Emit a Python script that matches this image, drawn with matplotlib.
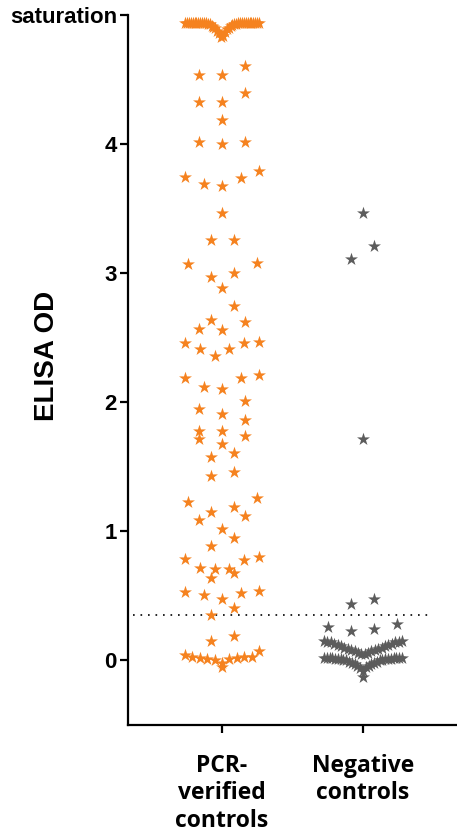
import numpy as np
import matplotlib
matplotlib.use('Agg')
import matplotlib.pyplot as plt

# ELISA OD values
pcr_values = [
    4.61, 4.54, 4.54, 4.40, 4.33, 4.33, 4.19, 4.02, 4.00, 4.02,
    3.79, 3.75, 3.74, 3.69, 3.68, 3.47, 3.26, 3.26, 3.08, 3.07,
    3.00, 2.97, 2.89, 2.75, 2.64, 2.62, 2.57, 2.56, 2.47, 2.46,
    2.46, 2.41, 2.41, 2.36, 2.21, 2.19, 2.19, 2.12, 2.10, 2.01,
    1.95, 1.91, 1.86, 1.78, 1.78, 1.74, 1.72, 1.68, 1.61, 1.58,
    1.46, 1.43, 1.26, 1.23, 1.19, 1.15, 1.12, 1.09, 1.02, 0.95,
    0.89, 0.80, 0.79, 0.78, 0.72, 0.71, 0.71, 0.68, 0.64, 0.54,
    0.53, 0.52, 0.51, 0.48, 0.41, 0.35, 0.19, 0.15, 0.07, 0.04,
    0.03, 0.03, 0.03, 0.02, 0.02, 0.01, 0.01, 0.0, -0.02, -0.05,
]
# samples above the reader's range, drawn at the saturation line
pcr_saturated = [4.83, 4.84, 4.86, 4.87, 4.88, 4.89, 4.90, 4.905, 4.91, 4.915,
                 4.92, 4.925, 4.93, 4.93, 4.935, 4.935] + [4.94] * 24

neg_values = [
    3.47, 3.21, 3.11, 1.72, 0.48, 0.44, 0.28, 0.26, 0.24, 0.23,
    0.15, 0.15, 0.145, 0.145, 0.14, 0.14, 0.13, 0.13, 0.12, 0.12,
    0.11, 0.11, 0.10, 0.10, 0.09, 0.09, 0.08, 0.08, 0.07, 0.07,
    0.06, 0.06, 0.05, 0.05,
    0.02, 0.02, 0.02, 0.02, 0.02, 0.02, 0.02, 0.02, 0.01, 0.01,
    0.01, 0.01, 0.01, 0.01, 0.0, 0.0, 0.0, 0.0, -0.01, -0.01,
    -0.02, -0.02, -0.03, -0.03, -0.04, -0.04, -0.05, -0.06, -0.08, -0.13,
]

groups = ['PCR-\nverified\ncontrols', 'Negative\ncontrols']
cutoff = 0.35
saturation = 5.0
y_ticks = [0, 1, 2, 3, 4, saturation]
y_ticklabels = ['0', '1', '2', '3', '4', 'saturation']

ORANGE = '#F5821F'
GREY = '#5C5C5C'


def row_scatter_x(ax, x0, values, row_height=0.12, step_px=23.0, span_px=74.0):
    """Prism-style column scatter: bin values into rows (top down) and spread
    each row symmetrically, lowest value of a row in the middle."""
    values = np.asarray(values, dtype=float)
    px_per_unit = ax.transData.transform((1, 0))[0] - ax.transData.transform((0, 0))[0]
    xs = np.full(len(values), float(x0))
    order = list(np.argsort(-values, kind='stable'))
    while order:
        top = values[order[0]]
        row = [i for i in order if values[i] > top - row_height]
        order = [i for i in order if i not in row]
        row.sort(key=lambda i: values[i])
        n = len(row)
        spacing = min(step_px, span_px / (n - 1)) if n > 1 else 0.0
        offsets = (np.arange(n) - (n - 1) / 2) * spacing
        slots = offsets[np.argsort(np.abs(offsets), kind='stable')]
        for i, off in zip(row, slots):
            xs[i] = x0 + off / px_per_unit
    return xs


fig = plt.figure(figsize=(4.57, 8.31), dpi=100)
ax = fig.add_axes([128 / 457, 0.1276, 1 - 128 / 457, 0.854])
ax.set_xlim(-0.667, 1.667)
ax.set_ylim(-0.5, saturation)

pcr_all = pcr_values + pcr_saturated
ax.scatter(row_scatter_x(ax, 0, pcr_all), pcr_all, marker='*', s=95,
           color=ORANGE, linewidths=0, zorder=3)
ax.scatter(row_scatter_x(ax, 1, neg_values, span_px=78.0), neg_values,
           marker='*', s=95, color=GREY, linewidths=0, zorder=3)

ax.hlines(cutoff, -0.63, 1.475, colors='black', linewidth=1.2,
          linestyles=(0, (1, 3.5)), zorder=2)

for side in ['top', 'right']:
    ax.spines[side].set_visible(False)
for side in ['left', 'bottom']:
    ax.spines[side].set_linewidth(1.6)

ax.set_yticks(y_ticks)
ax.set_yticklabels(y_ticklabels, fontsize=16, fontweight='bold',
                   family='Liberation Sans')
ax.set_xticks([0, 1])
ax.set_xticklabels(groups, fontsize=16.5, fontweight='bold',
                   family='Open Sans', linespacing=1.18)
ax.tick_params(axis='y', length=6, width=1.6, pad=2)
ax.tick_params(axis='x', length=6, width=1.6, pad=15)

ax.set_ylabel('ELISA OD', fontsize=20, fontweight='bold',
              family='Liberation Sans', va='center')
ax.yaxis.set_label_coords(-0.245, 0.52)

fig.savefig('out.png', dpi=100)
